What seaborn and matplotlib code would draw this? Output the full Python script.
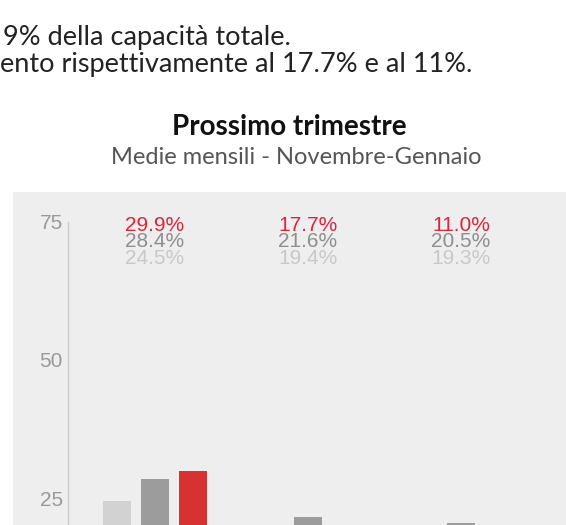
import matplotlib
matplotlib.use("Agg")
import matplotlib.pyplot as plt
from matplotlib.patches import Rectangle
import pandas as pd
import seaborn as sns

# data
groups = ["Gruppo 1", "Gruppo 2", "Gruppo 3"]
series = ["serie chiara", "serie scura", "serie rossa"]
light_vals = [24.5, 19.4, 19.3]
dark_vals = [28.4, 21.6, 20.5]
red_vals = [29.9, 17.7, 11.0]
yticks = [25, 50, 75]

body_lines = ["9% della capacità totale.", "ento rispettivamente al 17.7% e al 11%."]
title = "Prossimo trimestre"
subtitle = "Medie mensili - Novembre-Gennaio"

bar_colors = ["#d2d2d2", "#9c9c9c", "#d63232"]
label_colors = ["#c8c8c8", "#8e8e8e", "#e0233a"]

df = pd.DataFrame({
    "gruppo": groups * 3,
    "serie": [series[0]] * 3 + [series[1]] * 3 + [series[2]] * 3,
    "valore": light_vals + dark_vals + red_vals,
})

W, H = 566, 525
fig = plt.figure(figsize=(W / 100, H / 100), dpi=100)
fig.patch.set_facecolor("white")

# grey chart panel behind the plot
panel = Rectangle((12.5 / W, 0), 1, (H - 192) / H, transform=fig.transFigure,
                  facecolor="#eeeeee", edgecolor="none", zorder=-10)
fig.patches.append(panel)

# page text above the chart
fig.text(3 / W, 1 - 38 / H, body_lines[0], family="Lato", fontsize=19.5, color="#222222", va="center")
fig.text(0 / W, 1 - 64 / H, body_lines[1], family="Lato", fontsize=19.5, color="#222222", va="center")
fig.text(289 / W, 1 - 127 / H, title, family="Lato", fontweight="bold", fontsize=20,
         color="#111111", ha="center", va="center")
fig.text(296 / W, 1 - 157 / H, subtitle, family="Lato", fontsize=17,
         color="#555555", ha="center", va="center")

# axes: zero line sits below the visible crop
ax = fig.add_axes([67.5 / W, (H - 636.5) / H, 1 - 67.5 / W, (636.5 - 221.5) / H])
ax.set_facecolor("none")
ax.set_zorder(5)

sns.barplot(data=df, x="gruppo", y="valore", hue="serie", hue_order=series,
            palette=bar_colors, saturation=1, width=0.745, gap=0.263,
            linewidth=0, legend=False, ax=ax)

ax.set_xlim(-(155 - 67.5) / 153, (W - 155) / 153)
ax.set_ylim(0, 75)

# stacked value labels on top of each group
label_y = [68.4, 71.3, 74.35]
for i, g in enumerate(groups):
    for j, vals in enumerate([light_vals, dark_vals, red_vals]):
        ax.text(i, label_y[j], f"{vals[i]:.1f}%", ha="center", va="center",
                family="Liberation Sans", fontsize=15, color=label_colors[j], clip_on=False)

ax.set_yticks(yticks)
ax.set_yticklabels([str(t) for t in yticks], family="Liberation Sans")
ax.tick_params(axis="y", length=0, pad=3.5, labelcolor="#999999", labelsize=15)
ax.set_xticks([])
ax.set_xlabel("")
ax.set_ylabel("")
for s in ["top", "right", "bottom"]:
    ax.spines[s].set_visible(False)
ax.spines["left"].set_color("#cccccc")
ax.spines["left"].set_linewidth(1)

fig.savefig("out.png", dpi=100)
